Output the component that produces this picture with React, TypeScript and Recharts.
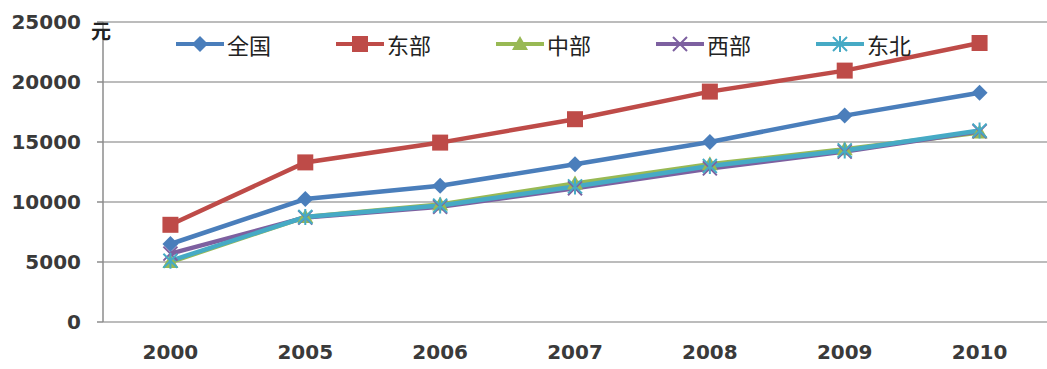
import React from 'react';
import { LineChart, Line, XAxis, YAxis, CartesianGrid } from 'recharts';

const years = ['2000', '2005', '2006', '2007', '2008', '2009', '2010'];
const quanguo = [6500, 10250, 11350, 13150, 15000, 17200, 19100];
const dongbu = [8100, 13300, 14950, 16900, 19200, 20950, 23250];
const zhongbu = [5000, 8750, 9800, 11550, 13150, 14400, 15800];
const xibu = [5700, 8700, 9600, 11150, 12800, 14200, 15900];
const dongbei = [5100, 8750, 9700, 11300, 13000, 14300, 15950];
const yTicks = [0, 5000, 10000, 15000, 20000, 25000];

const chartData = years.map((year, i) => ({
  idx: i,
  year,
  quanguo: quanguo[i],
  dongbu: dongbu[i],
  zhongbu: zhongbu[i],
  xibu: xibu[i],
  dongbei: dongbei[i],
}));

type Shape = 'diamond' | 'square' | 'triangle' | 'cross' | 'star';

const series: { key: string; name: string; color: string; shape: Shape }[] = [
  { key: 'quanguo', name: '全国', color: '#4a7ebb', shape: 'diamond' },
  { key: 'dongbu', name: '东部', color: '#be4b48', shape: 'square' },
  { key: 'zhongbu', name: '中部', color: '#98b954', shape: 'triangle' },
  { key: 'xibu', name: '西部', color: '#7d60a0', shape: 'cross' },
  { key: 'dongbei', name: '东北', color: '#46aac5', shape: 'star' },
];

function Marker({ cx, cy, shape, color }: { cx: number; cy: number; shape: Shape; color: string }) {
  switch (shape) {
    case 'diamond':
      return <path d={`M${cx},${cy - 8}L${cx + 8},${cy}L${cx},${cy + 8}L${cx - 8},${cy}Z`} fill={color} />;
    case 'square':
      return <rect x={cx - 8} y={cy - 8} width={16} height={16} fill={color} />;
    case 'triangle':
      return <path d={`M${cx},${cy - 8}L${cx + 8},${cy + 6}L${cx - 8},${cy + 6}Z`} fill={color} />;
    case 'cross':
      return (
        <path d={`M${cx - 7},${cy - 7}L${cx + 7},${cy + 7}M${cx - 7},${cy + 7}L${cx + 7},${cy - 7}`}
          stroke={color} strokeWidth={2} />
      );
    case 'star':
      return (
        <path
          d={`M${cx - 7},${cy - 7}L${cx + 7},${cy + 7}M${cx - 7},${cy + 7}L${cx + 7},${cy - 7}M${cx},${cy - 8}L${cx},${cy + 8}`}
          stroke={color} strokeWidth={2} />
      );
  }
}

const makeDot = (shape: Shape, color: string) => (props: any) => {
  const { cx, cy, index } = props;
  if (cx == null || cy == null) return <g key={index} />;
  return <g key={index}><Marker cx={cx} cy={cy} shape={shape} color={color} /></g>;
};

// legend sits over the top of the plot, so it is laid over the chart instead of taking space
function LegendRow() {
  return (
    <div style={{ position: 'absolute', left: 176, top: 31, display: 'flex' }}>
      {series.map((s) => (
        <div key={s.key} style={{ display: 'flex', alignItems: 'center', width: 160 }}>
          <svg width={48} height={20}>
            <line x1={0} y1={10} x2={48} y2={10} stroke={s.color} strokeWidth={4} />
            <Marker cx={24} cy={10} shape={s.shape} color={s.color} />
          </svg>
          <span style={{ fontFamily: '"Noto Sans CJK SC", sans-serif', fontSize: 22, lineHeight: '26px', color: '#222', marginLeft: 3 }}>
            {s.name}
          </span>
        </div>
      ))}
    </div>
  );
}

const tickFont = { fontFamily: '"DejaVu Sans", sans-serif', fontSize: 20, fontWeight: 'bold', fill: '#3a3a3a' };

export default function App() {
  return (
    <div style={{ position: 'absolute', left: 0, top: 0, width: 1047, height: 369, background: '#fff' }}>
      <LineChart width={1047} height={369} data={chartData} margin={{ top: 22, right: 0, bottom: 0, left: 0 }}>
        <CartesianGrid horizontal vertical={false} stroke="#a6a6a6" strokeWidth={1.5} />
        <XAxis
          xAxisId="marks"
          type="number"
          dataKey="idx"
          domain={[-0.5, 6.5]}
          ticks={[-0.5, 0.5, 1.5, 2.5, 3.5, 4.5, 5.5, 6.5]}
          tickFormatter={() => ''}
          height={0}
          stroke="#8c8c8c"
          strokeWidth={1.5}
          tickSize={6}
        />
        <XAxis
          type="number"
          dataKey="idx"
          domain={[-0.5, 6.5]}
          ticks={[0, 1, 2, 3, 4, 5, 6]}
          tickFormatter={(i: number) => years[i]}
          axisLine={false}
          tickLine={false}
          height={47}
          tick={tickFont}
          tickMargin={17}
        />
        <YAxis
          domain={[0, 25000]}
          ticks={yTicks}
          width={103}
          stroke="#8c8c8c"
          strokeWidth={1.5}
          tickSize={6}
          tickMargin={16}
          tick={tickFont}
          label={({ viewBox }: any) => (
            <text x={viewBox.x + viewBox.width - 2} y={viewBox.y + 17} textAnchor="middle"
              style={{ fontFamily: '"Noto Sans CJK SC", sans-serif', fontSize: 20, fontWeight: 'bold' }} fill="#222">
              元
            </text>
          )}
        />
        {series.map((s) => (
          <Line
            key={s.key}
            type="linear"
            dataKey={s.key}
            name={s.name}
            stroke={s.color}
            strokeWidth={4.5}
            dot={makeDot(s.shape, s.color)}
            activeDot={false}
            isAnimationActive={false}
          />
        ))}
      </LineChart>
      <LegendRow />
    </div>
  );
}
